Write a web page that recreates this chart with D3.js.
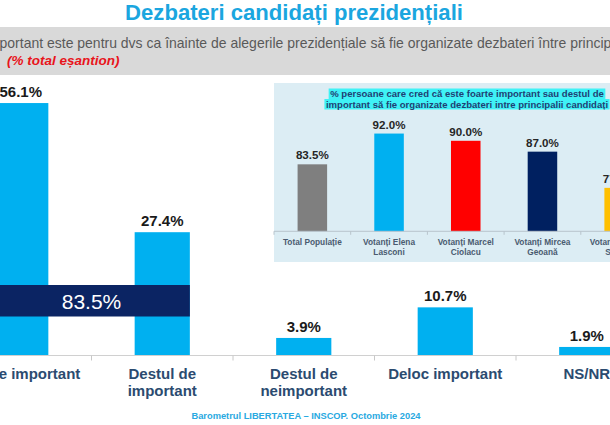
<!DOCTYPE html>
<html>
<head>
<meta charset="utf-8">
<script src="https://cdn.jsdelivr.net/npm/d3@7"></script>
<style>
  html, body { margin: 0; padding: 0; background: #ffffff; }
  svg { display: block; font-family: "Liberation Sans", Arial, sans-serif; }
</style>
</head>
<body>
<svg id="chart" width="610" height="425"></svg>
<script>
// ---------- data ----------
const titleText = "Dezbateri candidați prezidențiali";
const questionText = "Cât de important este pentru dvs ca înainte de alegerile prezidențiale să fie organizate dezbateri între principalii candidați?";
const questionHiddenPrefix = "Cât de im";
const questionVisiblePart = "portant este pentru dvs ca înainte de alegerile prezidențiale să fie organizate dezbateri între princip";
const sampleNote = "(% total eșantion)";
const sourceText = "Barometrul LIBERTATEA – INSCOP. Octombrie 2024";

const categories = ["Foarte important", "Destul de important", "Destul de neimportant", "Deloc important", "NS/NR"];
const categoryLines = [["Foarte important"], ["Destul de", "important"], ["Destul de", "neimportant"], ["Deloc important"], ["NS/NR"]];
const values = [56.1, 27.4, 3.9, 10.7, 1.9];
const totalImportant = 83.5;

const insetTitleLines = ["% persoane care cred că este foarte important sau destul de",
                         "important să fie organizate dezbateri intre principalii candidați"];
const groups = ["Total Populație", "Votanți Elena Lasconi", "Votanți Marcel Ciolacu", "Votanți Mircea Geoană", "Votanți George Simion"];
const groupLines = [["Total Populație"], ["Votanți Elena", "Lasconi"], ["Votanți Marcel", "Ciolacu"], ["Votanți Mircea", "Geoană"], ["Votanți George", "Simion"]];
const groupValues = [83.5, 92.0, 90.0, 87.0, 77.0];
const groupColors = ["#7f7f7f", "#00b0f0", "#ff0000", "#002060", "#ffc000"];

// ---------- drawing ----------
const svg = d3.select("#chart");
const fmt = d => d.toFixed(1) + "%";

function textWidth(str, attrs) {
  const t = svg.append("text").text(str);
  Object.entries(attrs).forEach(([k, v]) => t.attr(k, v));
  const w = t.node().getComputedTextLength();
  t.remove();
  return w;
}
function fitWidth(sel, target) {
  const node = sel.node();
  const fs = parseFloat(sel.attr("font-size"));
  const w = node.getComputedTextLength();
  sel.attr("font-size", (fs * target / w).toFixed(2));
}

// title
const title = svg.append("text")
  .attr("x", 294).attr("y", 20)
  .attr("text-anchor", "middle")
  .attr("font-size", 21).attr("font-weight", "bold")
  .attr("fill", "#1ba6df")
  .text(titleText);
fitWidth(title, 338);

// question band
svg.append("rect").attr("x", 0).attr("y", 27).attr("width", 610).attr("height", 48).attr("fill", "#d9d9d9");
const qBase = 13;
const qFs = qBase * 612 / textWidth(questionVisiblePart, { "font-size": qBase });
const prefixW = textWidth(questionHiddenPrefix, { "font-size": qFs });
svg.append("text")
  .attr("x", -prefixW - 0.5).attr("y", 47.5)
  .attr("font-size", qFs.toFixed(2)).attr("fill", "#595959")
  .text(questionText);
svg.append("text")
  .attr("x", 7).attr("y", 64.5)
  .attr("font-size", 13.5).attr("font-weight", "bold").attr("font-style", "italic")
  .attr("fill", "#e8141b")
  .text(sampleNote);

// ---------- main chart ----------
const x = d3.scaleBand().domain(categories).range([-50, 657.5]).paddingInner(0.61).paddingOuter(0.305);
const y = d3.scaleLinear().domain([0, 60]).range([355.5, 85.5]);

const main = svg.append("g");
main.selectAll("rect.bar").data(categories).join("rect")
  .attr("class", "bar")
  .attr("x", d => x(d)).attr("width", x.bandwidth())
  .attr("y", (d, i) => y(values[i])).attr("height", (d, i) => y(0) - y(values[i]))
  .attr("fill", "#00b0f0");

// axis
const axisG = main.append("g").attr("transform", `translate(0,${y(0)})`)
  .call(d3.axisBottom(x).tickSize(0).tickFormat(""));
axisG.select(".domain").attr("stroke", "#d0d0d0").attr("stroke-width", 1.2).attr("d", "M-60,0H620");
axisG.selectAll(".tick").remove();
const boundaries = categories.slice(1).map(c => x(c) - x.step() * x.paddingInner() / 2);
main.selectAll("line.btick").data(boundaries).join("line")
  .attr("class", "btick")
  .attr("x1", d => d).attr("x2", d => d)
  .attr("y1", y(0)).attr("y2", y(0) + 5)
  .attr("stroke", "#c8c8c8").attr("stroke-width", 1);

// value labels
main.selectAll("text.val").data(categories).join("text")
  .attr("class", "val")
  .attr("x", d => x(d) + x.bandwidth() / 2)
  .attr("y", (d, i) => y(values[i]) - 6)
  .attr("text-anchor", "middle")
  .attr("font-size", 15).attr("font-weight", "bold").attr("fill", "#1a1a1a")
  .text((d, i) => fmt(values[i]));

// category labels
main.selectAll("text.cat").data(categories).join("text")
  .attr("class", "cat")
  .attr("text-anchor", "middle")
  .attr("font-size", 15).attr("font-weight", "bold").attr("fill", "#2b4b70")
  .each(function (d, i) {
    const t = d3.select(this);
    categoryLines[i].forEach((line, j) => {
      t.append("tspan").attr("x", x(d) + x.bandwidth() / 2).attr("y", 379 + j * 17).text(line);
    });
  });

// total important box
const boxX0 = x(categories[0]);
const boxX1 = x(categories[1]) + x.bandwidth();
main.append("rect")
  .attr("x", boxX0).attr("y", 285)
  .attr("width", boxX1 - boxX0).attr("height", 31.5)
  .attr("fill", "#0b2463");
main.append("text")
  .attr("x", boundaries[0]).attr("y", 308.5)
  .attr("text-anchor", "middle")
  .attr("font-size", 21).attr("fill", "#ffffff")
  .text(fmt(totalImportant));

// source
svg.append("text")
  .attr("x", 306).attr("y", 418.5)
  .attr("text-anchor", "middle")
  .attr("font-size", 9.3).attr("font-weight", "bold").attr("fill", "#29a9e1")
  .text(sourceText);

// ---------- inset chart ----------
const inset = svg.append("g");
inset.append("rect").attr("x", 274).attr("y", 83).attr("width", 340).attr("height", 179).attr("fill", "#dcedf4");

const gx = d3.scaleBand().domain(groups).range([274, 657.5]).paddingInner(0.615).paddingOuter(0.3075);
const gy = d3.scaleLinear().domain([65, 100]).range([231.3, 231.3 - 35 * 3.62]);

// inset title with highlight
const itLines = inset.selectAll("g.itl").data(insetTitleLines).join("g").attr("class", "itl");
const itTexts = itLines.append("text")
  .attr("x", 467).attr("y", (d, i) => 97 + i * 10.5)
  .attr("text-anchor", "middle")
  .attr("font-size", 9.5).attr("font-weight", "bold").attr("fill", "#1f3f73")
  .text(d => d);
fitWidth(d3.select(itTexts.nodes()[0]), 274);
const itFs = d3.select(itTexts.nodes()[0]).attr("font-size");
itTexts.attr("font-size", itFs);
itLines.each(function () {
  const g = d3.select(this);
  const bb = g.select("text").node().getBBox();
  g.insert("rect", "text")
    .attr("x", bb.x - 1.5).attr("y", (bb.y + 0.5))
    .attr("width", bb.width + 3).attr("height", bb.height - 0.5)
    .attr("fill", "#3ff2f6");
});

// bars
inset.selectAll("rect.gbar").data(groups).join("rect")
  .attr("class", "gbar")
  .attr("x", d => gx(d)).attr("width", gx.bandwidth())
  .attr("y", (d, i) => gy(groupValues[i])).attr("height", (d, i) => gy(65) - gy(groupValues[i]))
  .attr("fill", (d, i) => groupColors[i]);

// inset axis
inset.append("line").attr("x1", 274).attr("x2", 660).attr("y1", gy(65)).attr("y2", gy(65))
  .attr("stroke", "#b8c4cc").attr("stroke-width", 1);
const gBounds = [274].concat(groups.slice(1).map(g => gx(g) - gx.step() * gx.paddingInner() / 2));
inset.selectAll("line.gtick").data(gBounds).join("line")
  .attr("class", "gtick")
  .attr("x1", d => d).attr("x2", d => d)
  .attr("y1", gy(65)).attr("y2", gy(65) + 3.5)
  .attr("stroke", "#b8c4cc");

// inset value labels
inset.selectAll("text.gval").data(groups).join("text")
  .attr("class", "gval")
  .attr("x", d => gx(d) + gx.bandwidth() / 2)
  .attr("y", (d, i) => gy(groupValues[i]) - 5)
  .attr("text-anchor", "middle")
  .attr("font-size", 11.6).attr("font-weight", "bold").attr("fill", "#262626")
  .text((d, i) => fmt(groupValues[i]));

// inset category labels
inset.selectAll("text.gcat").data(groups).join("text")
  .attr("class", "gcat")
  .attr("text-anchor", "middle")
  .attr("font-size", 8.3).attr("font-weight", "bold").attr("fill", "#4a5b70")
  .each(function (d, i) {
    const t = d3.select(this);
    groupLines[i].forEach((line, j) => {
      t.append("tspan").attr("x", gx(d) + gx.bandwidth() / 2).attr("y", 244.7 + j * 10).text(line);
    });
  });
</script>
</body>
</html>
